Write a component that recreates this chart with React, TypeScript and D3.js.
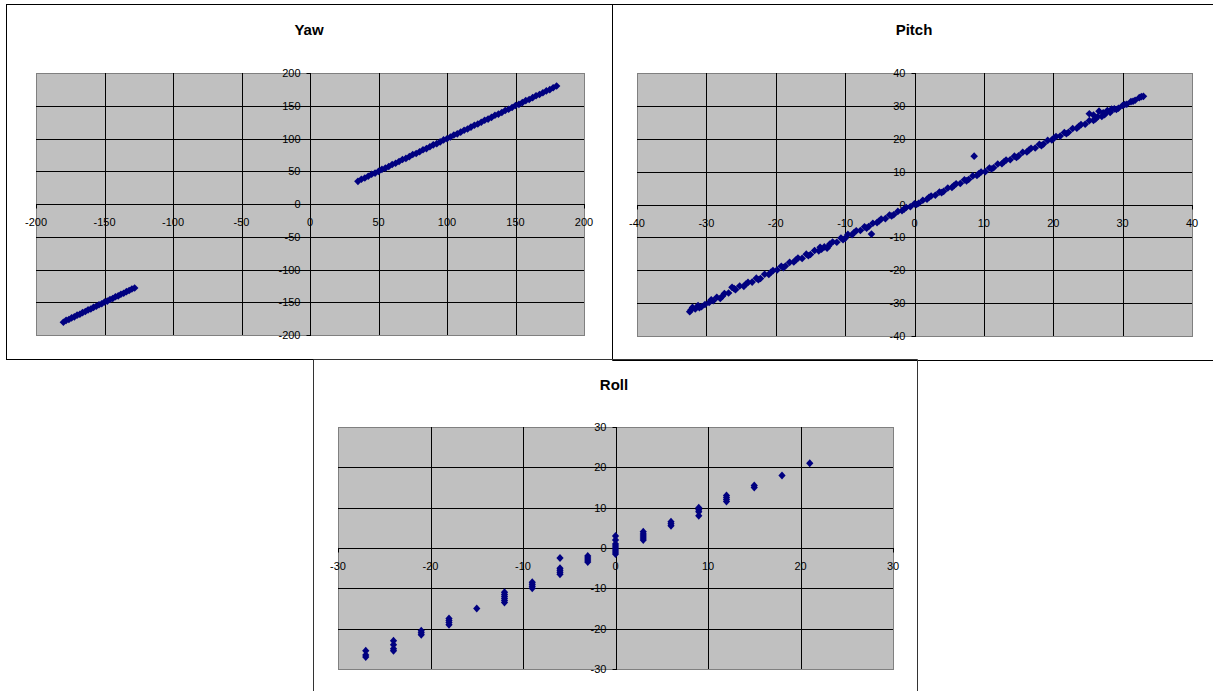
import React from 'react';
import * as d3 from 'd3';

// ticks for each chart
const yawTicks = [-200, -150, -100, -50, 0, 50, 100, 150, 200];
const pitchTicks = [-40, -30, -20, -10, 0, 10, 20, 30, 40];
const rollTicks = [-30, -20, -10, 0, 10, 20, 30];

// Yaw readings [x, y]
const yawPoints: [number, number][] = [
  [-180, -180.5], [-178, -177.6], [-176, -176.4], [-174, -173.8], [-172, -172.3], [-170, -169.7],
  [-168, -168.4], [-166, -165.8], [-164, -164.2], [-162, -161.7], [-160, -160.3], [-158, -157.8],
  [-156, -156.2], [-154, -153.9], [-152, -152.4], [-150, -149.7], [-148, -148.3], [-146, -145.8],
  [-144, -144.2], [-142, -141.6], [-140, -140.3], [-138, -137.9], [-136, -136.2], [-134, -133.8],
  [-132, -132.1], [-130, -129.7], [-128, -128.2],
  [35, 34.6], [37.5, 37.8], [40, 39.7], [42.5, 42.3], [45, 45.4], [47.5, 47.2], [50, 49.8],
  [52.5, 52.9], [55, 54.7], [57.5, 57.3], [60, 60.4], [62.5, 62.2], [65, 64.8], [67.5, 67.9],
  [70, 69.6], [72.5, 72.3], [75, 75.5], [77.5, 77.2], [80, 79.7], [82.5, 82.8], [85, 84.6],
  [87.5, 87.4], [90, 90.3], [92.5, 92.1], [95, 94.8], [97.5, 97.9], [100, 99.6], [102.5, 102.4],
  [105, 105.3], [107.5, 107.1], [110, 109.8], [112.5, 112.7], [115, 114.6], [117.5, 117.4],
  [120, 120.3], [122.5, 122.2], [125, 124.7], [127.5, 127.8], [130, 129.6], [132.5, 132.3],
  [135, 135.4], [137.5, 137.2], [140, 139.7], [142.5, 142.8], [145, 144.6], [147.5, 147.3],
  [150, 150.4], [152.5, 152.1], [155, 154.8], [157.5, 157.9], [160, 159.6], [162.5, 162.4],
  [165, 165.3], [167.5, 167.1], [170, 169.8], [172.5, 172.7], [175, 174.6], [177.5, 177.4],
  [180, 180.2],
];

// Pitch readings [x, y]
const pitchPoints: [number, number][] = [
  [-32.4, -32.6], [-32.0, -31.3], [-31.6, -31.8], [-31.2, -30.7], [-30.7, -31.1], [-30.2, -30.4],
  [-29.6, -29.8], [-29.0, -29.3], [-28.5, -28.2], [-28.0, -28.6], [-27.4, -27.1], [-26.8, -26.9],
  [-26.3, -25.2], [-25.8, -25.9], [-25.2, -24.8], [-24.6, -24.9], [-24.0, -23.7], [-23.4, -23.6],
  [-22.8, -22.4], [-22.2, -22.5], [-21.6, -21.2], [-21.0, -21.3], [-20.4, -20.1], [-19.8, -19.9],
  [-19.2, -18.8], [-18.6, -18.7], [-18.0, -17.6], [-17.4, -17.5], [-16.8, -16.3], [-16.2, -16.4],
  [-15.6, -15.1], [-15.0, -15.2], [-14.4, -14.0], [-13.8, -14.1], [-13.4, -13.6], [-13.0, -12.9],
  [-12.6, -13.3], [-12.2, -12.0], [-11.8, -11.4], [-11.2, -11.5], [-10.6, -10.2], [-10.0, -10.3],
  [-9.6, -9.1], [-9.0, -9.2], [-8.4, -8.0], [-7.8, -7.9], [-7.2, -6.8], [-6.6, -6.7], [-6.2, -9.0],
  [-6.0, -5.7], [-5.4, -5.5], [-4.8, -4.4], [-4.2, -4.3], [-3.6, -3.2], [-3.0, -3.1], [-2.4, -2.1],
  [-1.8, -1.9], [-1.2, -0.9], [-0.6, -0.7], [0, 0.2], [0.6, 0.4], [1.2, 1.3], [1.8, 1.6],
  [2.4, 2.6], [3.0, 2.8], [3.6, 3.8], [4.2, 4.0], [4.8, 5.0], [5.4, 5.2], [6.0, 6.3], [6.6, 6.4],
  [7.2, 7.5], [7.8, 7.6], [8.4, 8.7], [8.6, 14.7], [9.0, 8.8], [9.6, 9.9], [10.2, 10.0],
  [10.8, 11.1], [11.4, 11.2], [12.0, 12.3], [12.6, 12.4], [13.2, 13.5], [13.8, 13.6], [14.4, 14.7],
  [15.0, 14.8], [15.6, 15.9], [16.2, 16.0], [16.8, 17.1], [17.4, 17.2], [18.0, 18.3], [18.6, 18.4],
  [19.2, 19.5], [19.8, 19.6], [20.4, 20.7], [21.0, 20.8], [21.6, 21.9], [22.2, 22.0], [22.8, 23.1],
  [23.4, 23.2], [24.0, 24.3], [24.6, 24.4], [25.2, 25.5], [25.2, 27.6], [25.8, 25.6], [25.8, 27.2],
  [26.4, 26.7], [26.6, 28.4], [27.0, 26.8], [27.2, 27.9], [27.6, 27.9], [27.8, 28.6], [28.2, 28.0],
  [28.4, 29.0], [28.8, 29.1], [29.4, 29.3], [30.0, 30.1], [30.6, 30.5], [31.2, 31.3], [31.8, 31.7],
  [32.4, 32.5], [33.0, 32.9],
  [-32.2, -32.0], [-31.0, -31.4], [-29.3, -29.0], [-27.7, -27.9], [-26.0, -25.6], [-24.3, -24.2],
  [-22.5, -22.9], [-20.7, -20.6], [-18.9, -19.2], [-17.1, -16.9], [-15.3, -15.6], [-13.6, -13.0],
  [-12.4, -12.7], [-10.3, -10.7], [-8.7, -8.5], [-6.9, -7.2], [-5.1, -5.0], [-3.3, -3.5],
  [-1.5, -1.4], [0.3, 0.0], [2.1, 2.2], [3.9, 3.6], [5.7, 5.8], [7.5, 7.2], [9.3, 9.4],
  [11.1, 10.8], [12.9, 13.0], [14.7, 14.3], [16.5, 16.6], [18.3, 17.9], [20.1, 20.2], [21.9, 21.5],
  [23.7, 23.8], [26.1, 26.0], [27.4, 27.3], [29.1, 28.9], [30.3, 30.4], [31.5, 31.4], [32.7, 32.8],
];

// Roll readings [x, y]
const rollPoints: [number, number][] = [
  [-27, -25.5], [-27, -26.5], [-27, -27],
  [-24, -23], [-24, -24], [-24, -25], [-24, -25.5],
  [-21, -20.5], [-21, -21], [-21, -21.5],
  [-18, -17.5], [-18, -18], [-18, -18.5], [-18, -19],
  [-15, -15],
  [-12, -11], [-12, -11.5], [-12, -12], [-12, -12.5], [-12, -13], [-12, -13.5],
  [-9, -8.5], [-9, -9], [-9, -9.5], [-9, -10],
  [-6, -2.5], [-6, -5], [-6, -5.5], [-6, -6], [-6, -6.5],
  [-3, -2], [-3, -2.5], [-3, -3], [-3, -3.5],
  [0, 3], [0, 2], [0, 1], [0, 0.5], [0, 0], [0, -0.5], [0, -1], [0, -1.5],
  [3, 2], [3, 2.5], [3, 3], [3, 3.5], [3, 4],
  [6, 5.5], [6, 6], [6, 6.5],
  [9, 8], [9, 9], [9, 9.5], [9, 10],
  [12, 11.5], [12, 12], [12, 12.5], [12, 13],
  [15, 15], [15, 15.5],
  [18, 18],
  [21, 21],
];

type Plot = { l: number; r: number; t: number; b: number };

const font = 'Arial, "Liberation Sans", sans-serif';
const markerColor = '#000080';

function Panel(props: {
  title: string;
  titleX: number;
  titleY: number;
  plot: Plot;
  ticks: number[];
  points: [number, number][];
  mw: number;
  mh: number;
}) {
  const { title, titleX, titleY, plot, ticks, points, mw, mh } = props;
  const dom = d3.extent(ticks) as [number, number];
  const x = d3.scaleLinear().domain(dom).range([plot.l, plot.r]);
  const y = d3.scaleLinear().domain(dom).range([plot.b, plot.t]);
  const px = (v: number) => Math.round(x(v)) + 0.5;
  const py = (v: number) => Math.round(y(v)) + 0.5;
  const ax = px(0);
  const ay = py(0);
  const diamond = `M0,${-mh}L${mw},0L0,${mh}L${-mw},0Z`;
  const inner = ticks.filter(t => t !== dom[0] && t !== dom[1]);

  return (
    <g>
      <text x={titleX} y={titleY} textAnchor="middle" fontFamily={font} fontWeight="bold" fontSize={15}>
        {title}
      </text>
      <rect x={plot.l + 0.5} y={plot.t + 0.5} width={plot.r - plot.l} height={plot.b - plot.t}
        fill="#c0c0c0" stroke="#808080" />
      {/* tick labels sit under the gridlines, as in the original */}
      {ticks.map(t => (
        <text key={'xl' + t} x={x(t)} y={ay + 21} textAnchor="middle" fontFamily={font} fontSize={11}>{t}</text>
      ))}
      {ticks.map(t => (
        <text key={'yl' + t} x={ax - 10} y={y(t) + 4} textAnchor="end" fontFamily={font} fontSize={11}>{t}</text>
      ))}
      {inner.map(t => (
        <line key={'gx' + t} x1={px(t)} x2={px(t)} y1={plot.t} y2={plot.b} stroke="#000" />
      ))}
      {inner.map(t => (
        <line key={'gy' + t} x1={plot.l} x2={plot.r} y1={py(t)} y2={py(t)} stroke="#000" />
      ))}
      {/* axes */}
      <line x1={ax} x2={ax} y1={plot.t} y2={plot.b + 1} stroke="#000" />
      <line x1={plot.l} x2={plot.r + 1} y1={ay} y2={ay} stroke="#000" />
      {ticks.map(t => (
        <line key={'tx' + t} x1={px(t)} x2={px(t)} y1={ay} y2={ay + 4} stroke="#000" />
      ))}
      {ticks.map(t => (
        <line key={'ty' + t} x1={ax - 4} x2={ax} y1={py(t)} y2={py(t)} stroke="#000" />
      ))}
      {points.map((d, i) => (
        <path key={i} d={diamond} transform={`translate(${x(d[0])},${y(d[1])})`} fill={markerColor} />
      ))}
    </g>
  );
}

export default function App() {
  return (
    <svg width={1213} height={691} style={{ position: 'absolute', left: 0, top: 0, background: '#fff' }}>
      {/* frames */}
      <rect x={6.5} y={4.5} width={606} height={355} fill="none" stroke="#000" />
      <line x1={612.5} x2={1213} y1={4.5} y2={4.5} stroke="#000" />
      <line x1={612.5} x2={1213} y1={360.5} y2={360.5} stroke="#000" />
      <line x1={612.5} x2={612.5} y1={4.5} y2={360.5} stroke="#000" />
      <line x1={313.5} x2={313.5} y1={359.5} y2={691} stroke="#333" />
      <line x1={313.5} x2={917.5} y1={359.5} y2={359.5} stroke="#333" />
      <line x1={917.5} x2={917.5} y1={359.5} y2={691} stroke="#333" />

      <Panel title="Yaw" titleX={309} titleY={35} plot={{ l: 36, r: 584, t: 73, b: 335 }}
        ticks={yawTicks} points={yawPoints} mw={3.8} mh={3.8} />
      <Panel title="Pitch" titleX={914} titleY={35} plot={{ l: 637, r: 1192, t: 73, b: 336 }}
        ticks={pitchTicks} points={pitchPoints} mw={3.8} mh={3.8} />
      <Panel title="Roll" titleX={614} titleY={390} plot={{ l: 338, r: 893, t: 427, b: 669 }}
        ticks={rollTicks} points={rollPoints} mw={3.6} mh={4} />
    </svg>
  );
}
